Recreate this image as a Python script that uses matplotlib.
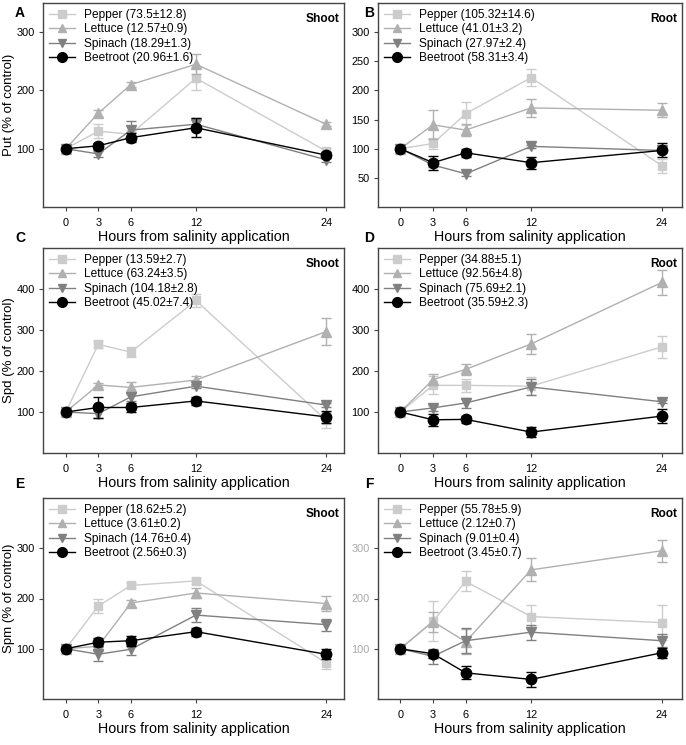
import numpy as np
import matplotlib.pyplot as plt
from matplotlib.lines import Line2D

plt.rcParams['font.family'] = ['Liberation Sans', 'DejaVu Sans']

hours = [0, 3, 6, 12, 24]
species = ['Pepper', 'Lettuce', 'Spinach', 'Beetroot']

# Put, shoot (A)
put_shoot = [[100, 130, 125, 221, 96], [100, 161, 210, 245, 142],
             [100, 91, 132, 142, 81], [100, 105, 119, 136, 89]]
put_shoot_err = [[0, 12, 6, 20, 5], [0, 6, 4, 17, 3],
                 [0, 5, 15, 10, 4], [0, 4, 8, 16, 5]]
put_shoot_lab = ['73.5±12.8', '12.57±0.9', '18.29±1.3', '20.96±1.6']

# Put, root (B)
put_root = [[100, 109, 160, 222, 71], [100, 141, 132, 170, 166],
            [100, 72, 57, 104, 97], [100, 76, 93, 76, 97]]
put_root_err = [[0, 10, 20, 15, 12], [0, 25, 10, 15, 12],
                [0, 3, 3, 3, 3], [0, 12, 7, 10, 12]]
put_root_lab = ['105.32±14.6', '41.01±3.2', '27.97±2.4', '58.31±3.4']

# Spd, shoot (C)
spd_shoot = [[100, 265, 246, 372, 80], [100, 166, 160, 178, 296],
             [100, 96, 137, 163, 117], [100, 111, 111, 127, 88]]
spd_shoot_err = [[0, 8, 12, 17, 20], [0, 5, 14, 10, 33],
                 [0, 10, 10, 5, 4], [0, 25, 12, 10, 15]]
spd_shoot_lab = ['13.59±2.7', '63.24±3.5', '104.18±2.8', '45.02±7.4']

# Spd, root (D)
spd_root = [[100, 165, 165, 163, 259], [100, 179, 204, 266, 416],
            [100, 110, 122, 161, 125], [100, 81, 82, 51, 90]]
spd_root_err = [[0, 22, 15, 22, 27], [0, 14, 13, 24, 30],
                [0, 7, 12, 20, 4], [0, 14, 8, 13, 18]]
spd_root_lab = ['34.88±5.1', '92.56±4.8', '75.69±2.1', '35.59±2.3']

# Spm, shoot (E)
spm_shoot = [[100, 185, 226, 235, 72], [100, 105, 191, 211, 190],
             [100, 89, 99, 167, 148], [100, 113, 116, 134, 89]]
spm_shoot_err = [[0, 14, 5, 6, 12], [0, 8, 7, 10, 14],
                 [0, 14, 12, 14, 12], [0, 8, 10, 8, 10]]
spm_shoot_lab = ['18.62±5.2', '3.61±0.2', '14.76±0.4', '2.56±0.3']

# Spm, root (F)
spm_root = [[100, 155, 234, 164, 152], [100, 154, 114, 257, 295],
            [100, 85, 116, 133, 116], [100, 90, 52, 39, 92]]
spm_root_err = [[0, 40, 20, 24, 35], [0, 20, 25, 23, 22],
                [0, 15, 25, 15, 13], [0, 8, 13, 15, 10]]
spm_root_lab = ['55.78±5.9', '2.12±0.7', '9.01±0.4', '3.45±0.7']

colors = ['#cccccc', '#b0b0b0', '#808080', '#000000']
markers = ['s', '^', 'v', 'o']
msizes = [6, 6.5, 6.5, 7.5]

W, H = 686, 745
fig = plt.figure(figsize=(W / 100, H / 100), dpi=100)

def box(x0, x1, y0, y1):
    return [x0 / W, 1 - y1 / H, (x1 - x0) / W, (y1 - y0) / H]

rows = [(3, 207), (248, 453), (498, 699)]
cols = [(43, 344), (378, 682)]

panels = [
    ('A', 'Shoot', 'Put (% of control)', put_shoot, put_shoot_err, put_shoot_lab, 350, [100, 200, 300]),
    ('B', 'Root', None, put_root, put_root_err, put_root_lab, 350, [50, 100, 150, 200, 250, 300]),
    ('C', 'Shoot', 'Spd (% of control)', spd_shoot, spd_shoot_err, spd_shoot_lab, 500, [100, 200, 300, 400]),
    ('D', 'Root', None, spd_root, spd_root_err, spd_root_lab, 500, [100, 200, 300, 400]),
    ('E', 'Shoot', 'Spm (% of control)', spm_shoot, spm_shoot_err, spm_shoot_lab, 400, [100, 200, 300]),
    ('F', 'Root', None, spm_root, spm_root_err, spm_root_lab, 400, [100, 200, 300]),
]

for i, (letter, tissue, ylabel, vals, errs, labs, ytop, yt) in enumerate(panels):
    r, c = divmod(i, 2)
    x0, x1 = cols[c]
    y0, y1 = rows[r]
    ax = fig.add_axes(box(x0, x1, y0, y1))
    handles = []
    for k in range(4):
        ax.errorbar(hours, vals[k], yerr=errs[k], color=colors[k], marker=markers[k],
                    ms=msizes[k], lw=1, elinewidth=1, capsize=3.5, capthick=1,
                    zorder=2 + k)
        handles.append(Line2D([], [], color=colors[k], marker=markers[k],
                              ms=msizes[k] - 0.5, lw=1, label=f'{species[k]} ({labs[k]})'))
    ax.set_ylim(0, ytop)
    ax.set_yticks(yt)
    ax.set_xticks(hours)
    if c == 0:
        ax.set_xlim(-2.1, 25.65)
    else:
        ax.set_xlim(-2.05, 25.85)
    for s in ax.spines.values():
        s.set_color('#444444')
        s.set_linewidth(1)
    ax.tick_params(direction='out', length=3, width=0.8, color='#444444',
                   labelsize=7.9, pad=5)
    ax.tick_params(axis='y', pad=3)
    if letter == 'F':
        ax.tick_params(axis='y', labelcolor='#aaaaaa')
    ax.set_xlabel('Hours from salinity application', fontsize=10.3, labelpad=1)
    if ylabel:
        ax.set_ylabel(ylabel, fontsize=9.5)
        ax.yaxis.set_label_coords((15.5 - x0) / (x1 - x0), 0.5)
    ax.legend(handles=handles, loc='upper left', frameon=False, fontsize=8.6,
              handlelength=2.2, handletextpad=0.75, labelspacing=0.2,
              borderaxespad=0, borderpad=0.5, bbox_to_anchor=(0.0, 1.0))
    ax.text(0.985, 0.92, tissue, transform=ax.transAxes, ha='right', va='center',
            fontsize=8.6, fontweight='bold')
    lx = 20 if c == 0 else 369
    ly = 13 if r == 0 else (238 if r == 1 else 484)
    fig.text(lx / W, 1 - ly / H, letter, ha='center', va='center',
             fontsize=10, fontweight='bold')

fig.savefig('out.png', dpi=100)
